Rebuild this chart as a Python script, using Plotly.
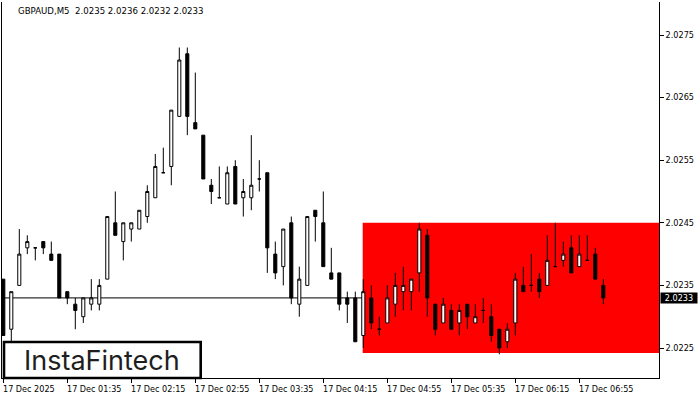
import plotly.graph_objects as go

# ---------------- data ----------------
bar_index = list(range(76))
opens = [2.0236, 2.0228, 2.0235, 2.0241, 2.0241, 2.0242, 2.0240, 2.0240, 2.0234, 2.0232,
         2.0230, 2.0232, 2.0232, 2.0236, 2.0245, 2.0242, 2.0244, 2.0244, 2.0246, 2.0249,
         2.0253, 2.0254, 2.0262, 2.0272, 2.0261, 2.0259, 2.0251, 2.0249, 2.0248, 2.0254,
         2.0249, 2.0249, 2.0252, 2.0253, 2.0240, 2.0238, 2.0245, 2.0232, 2.0235, 2.0247,
         2.0245, 2.0237, 2.0237, 2.0233, 2.0233, 2.0227, 2.0233, 2.0228, 2.0229, 2.0232,
         2.0234, 2.0234, 2.0237, 2.0243, 2.0232, 2.0229, 2.0231, 2.0229, 2.0232, 2.0229,
         2.0231, 2.0230, 2.0228, 2.0226, 2.0229, 2.0235, 2.0235, 2.0236, 2.0235, 2.0238,
         2.0239, 2.0241, 2.0238, 2.0239, 2.0240, 2.0235]
highs = [2.0236, 2.0234, 2.0244, 2.0243, 2.0241, 2.0242, 2.0242, 2.0240, 2.0234, 2.0233,
         2.0233, 2.0236, 2.0236, 2.0246, 2.0250, 2.0245, 2.0245, 2.0247, 2.0251, 2.0256,
         2.0257, 2.0263, 2.0273, 2.0273, 2.0269, 2.0259, 2.0252, 2.0254, 2.0254, 2.0255,
         2.0252, 2.0259, 2.0255, 2.0253, 2.0242, 2.0244, 2.0246, 2.0238, 2.0246, 2.0247,
         2.0250, 2.0241, 2.0237, 2.0234, 2.0234, 2.0236, 2.0235, 2.0230, 2.0235, 2.0237,
         2.0238, 2.0236, 2.0245, 2.0244, 2.0232, 2.0233, 2.0232, 2.0232, 2.0232, 2.0232,
         2.0233, 2.0232, 2.0228, 2.0229, 2.0237, 2.0238, 2.0240, 2.0237, 2.0243, 2.0245,
         2.0242, 2.0243, 2.0243, 2.0243, 2.0241, 2.0236]
lows = [2.0227, 2.0226, 2.0235, 2.0240, 2.0239, 2.0240, 2.0239, 2.0233, 2.0232, 2.0228,
        2.0229, 2.0231, 2.0231, 2.0236, 2.0243, 2.0239, 2.0242, 2.0244, 2.0245, 2.0249,
        2.0253, 2.0251, 2.0262, 2.0259, 2.0260, 2.0252, 2.0248, 2.0249, 2.0248, 2.0248,
        2.0246, 2.0247, 2.0250, 2.0237, 2.0236, 2.0235, 2.0232, 2.0230, 2.0235, 2.0242,
        2.0238, 2.0236, 2.0231, 2.0229, 2.0226, 2.0225, 2.0228, 2.0227, 2.0229, 2.0230,
        2.0231, 2.0231, 2.0234, 2.0230, 2.0227, 2.0229, 2.0228, 2.0227, 2.0228, 2.0229,
        2.0229, 2.0226, 2.0224, 2.0225, 2.0227, 2.0234, 2.0234, 2.0233, 2.0235, 2.0238,
        2.0238, 2.0237, 2.0238, 2.0239, 2.0236, 2.0232]
closes = [2.0227, 2.0234, 2.0240, 2.0242, 2.0241, 2.0241, 2.0239, 2.0233, 2.0233, 2.0231,
          2.0233, 2.0233, 2.0235, 2.0246, 2.0243, 2.0245, 2.0245, 2.0247, 2.0250, 2.0254,
          2.0253, 2.0263, 2.0271, 2.0262, 2.0260, 2.0252, 2.0250, 2.0249, 2.0253, 2.0248,
          2.0250, 2.0251, 2.0252, 2.0241, 2.0237, 2.0244, 2.0233, 2.0236, 2.0246, 2.0246,
          2.0238, 2.0236, 2.0232, 2.0232, 2.0226, 2.0234, 2.0229, 2.0228, 2.0233, 2.0235,
          2.0235, 2.0236, 2.0244, 2.0233, 2.0228, 2.0232, 2.0228, 2.0231, 2.0230, 2.0230,
          2.0231, 2.0227, 2.0225, 2.0228, 2.0236, 2.0234, 2.0235, 2.0234, 2.0239, 2.0238,
          2.0240, 2.0237, 2.0240, 2.0239, 2.0236, 2.0233]

x_tick_bars = [0, 8, 16, 24, 32, 40, 48, 56, 64, 72]
x_tick_labels = ["17 Dec 2025", "17 Dec 01:35", "17 Dec 02:15", "17 Dec 02:55",
                 "17 Dec 03:35", "17 Dec 04:15", "17 Dec 04:55", "17 Dec 05:35",
                 "17 Dec 06:15", "17 Dec 06:55"]
y_tick_vals = [2.0225, 2.0235, 2.0245, 2.0255, 2.0265, 2.0275]
y_tick_labels = ["2.0225", "2.0235", "2.0245", "2.0255", "2.0265", "2.0275"]

header_text = "GBPAUD,M5  2.0235 2.0236 2.0232 2.0233"
current_price = 2.0233
zone_start_bar = 44.925
zone_high = 2.0245
zone_low = 2.02242
logo_text = "InstaFintech"

# ---------------- figure ----------------
FONT = "DejaVu Sans"
AX_SIZE = 8.1
W, H = 700, 400
ML, MR, MT, MB = 2, 41, 2, 22
PW, PH = W - ML - MR, H - MT - MB


def px_x(px):
    return (px - ML) / PW


def px_y(py):
    return (H - MB - py) / PH


fig = go.Figure()
fig.add_trace(go.Candlestick(
    x=bar_index, open=opens, high=highs, low=lows, close=closes,
    increasing=dict(line=dict(color="black", width=1), fillcolor="white"),
    decreasing=dict(line=dict(color="black", width=1), fillcolor="black"),
    whiskerwidth=0, hoverinfo="skip", showlegend=False,
))

shapes = [
    dict(type="rect", xref="x", yref="y", x0=zone_start_bar, x1=90,
         y0=zone_low, y1=zone_high, fillcolor="#FF0000", line=dict(width=0),
         layer="below"),
    dict(type="line", xref="paper", yref="y", x0=0, x1=1,
         y0=current_price, y1=current_price, line=dict(color="black", width=1),
         layer="below"),
    dict(type="rect", xref="paper", yref="paper", x0=px_x(4), x1=px_x(200.7),
         y0=px_y(378), y1=px_y(342), fillcolor="white",
         line=dict(color="black", width=2.6), layer="above"),
]

annotations = []
for b, t in zip(x_tick_bars, x_tick_labels):
    annotations.append(dict(x=b, xref="x", y=px_y(388.5), yref="paper", text=t,
                            showarrow=False, xanchor="left", yanchor="middle",
                            xshift=-2, font=dict(family=FONT, size=AX_SIZE, color="black")))
annotations.append(dict(x=px_x(16), xref="paper", y=px_y(10.5), yref="paper",
                        text=header_text, showarrow=False, xanchor="left",
                        yanchor="middle", font=dict(family=FONT, size=8.6, color="black")))
annotations.append(dict(x=px_x(102), xref="paper", y=px_y(360), yref="paper",
                        text=logo_text, showarrow=False, xanchor="center",
                        yanchor="middle", font=dict(family="Inter", size=27, color="#1e1e1e")))
annotations.append(dict(x=1, xref="paper", y=current_price, yref="y",
                        text=str(current_price), showarrow=False, xanchor="left",
                        yanchor="middle", xshift=1, bgcolor="black", borderpad=0,
                        width=36, height=10, align="center",
                        font=dict(family=FONT, size=AX_SIZE, color="white")))

ymin = 2.0225 - 30 / 62600
ymax = 2.0225 + 346 / 62600
fig.update_layout(
    width=W, height=H,
    margin=dict(l=ML, r=MR, t=MT, b=MB, pad=0),
    paper_bgcolor="white", plot_bgcolor="white",
    boxgap=0.45,
    shapes=shapes, annotations=annotations,
    xaxis=dict(range=[(ML - 3.3) / 8, (W - MR - 3.3) / 8], rangeslider=dict(visible=False),
               showgrid=False, zeroline=False, showline=True, linecolor="black",
               linewidth=1, ticks="outside", ticklen=4, tickcolor="black",
               tickvals=x_tick_bars, ticktext=[""] * len(x_tick_bars), fixedrange=True),
    yaxis=dict(range=[ymin, ymax], side="right", showgrid=False, zeroline=False,
               showline=True, mirror=True, linecolor="black", linewidth=1,
               ticks="outside", ticklen=4, tickcolor="black",
               tickvals=y_tick_vals, ticktext=y_tick_labels,
               tickfont=dict(family=FONT, size=AX_SIZE, color="black"), fixedrange=True),
    font=dict(family=FONT),
)

fig.write_html("out.html", config={"displayModeBar": False},
               post_script="document.body.style.margin='0';document.body.style.overflow='hidden';")
